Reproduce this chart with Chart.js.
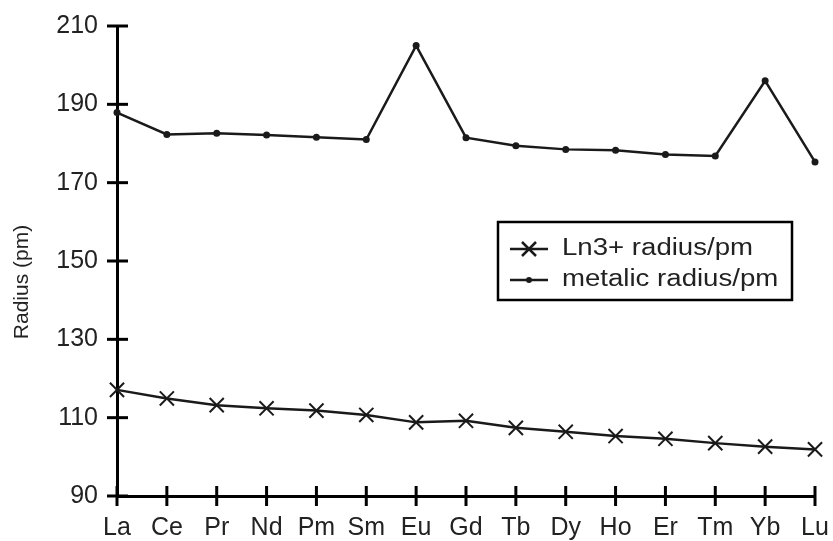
<!DOCTYPE html>
<html lang="en">
<head>
  <meta charset="UTF-8" />
  <title>Lanthanide radii</title>
  <script src="https://cdn.jsdelivr.net/npm/chart.js"></script>
  <style>
    html, body { margin:0; padding:0; background:#fff; }
    #box       { width:833px; height:541px; }
  </style>
</head>
<body>
<div id="box"><canvas id="radii"></canvas></div>

<script>
  /* ---------- data ---------- */
  const elements    = ['La','Ce','Pr','Nd','Pm','Sm','Eu','Gd','Tb','Dy','Ho','Er','Tm','Yb','Lu'];
  const ionRadius   = [117.1,114.9,113.2,112.4,111.8,110.7,108.8,109.2,107.4,106.4,105.3,104.6,103.5,102.6,101.9];
  const metalRadius = [187.9,182.3,182.6,182.2,181.6,181.0,205.0,181.5,179.4,178.5,178.3,177.2,176.8,196.0,175.3];
  const yTicks      = [90,110,130,150,170,190,210];

  const FONT = '"Liberation Sans", Arial, sans-serif';
  const INK  = '#1a1a1a';

  /* ticks crossing both axes + y title + boxed legend */
  const extras = {
    id:'extras',
    afterDraw(chart) {
      const c = chart.ctx, a = chart.chartArea;
      const xs = chart.scales.x, ys = chart.scales.y;
      c.save();
      c.strokeStyle = '#000'; c.lineWidth = 3; c.lineCap = 'butt';
      yTicks.forEach(v => {
        const y = ys.getPixelForValue(v);
        c.beginPath(); c.moveTo(a.left-10, y); c.lineTo(a.left+11, y); c.stroke();
      });
      elements.forEach((e,i) => {
        const x = xs.getPixelForValue(i);
        c.beginPath(); c.moveTo(x, a.bottom-10); c.lineTo(x, a.bottom+10); c.stroke();
      });

      // y title (source text is a little wider than tall)
      c.fillStyle = '#222';
      c.font = '21px ' + FONT;
      c.textAlign = 'center'; c.textBaseline = 'middle';
      c.translate(22, 282); c.rotate(-Math.PI/2);
      c.fillText('Radius (pm)', 0, 0);
      c.setTransform(1,0,0,1,0,0);

      // legend
      const L = {x:498, y:222, w:294, h:78};
      c.lineWidth = 2.5; c.strokeStyle = '#000';
      c.strokeRect(L.x, L.y, L.w, L.h);
      const rows = [L.y+27, L.y+58];
      chart.data.datasets.forEach((ds,i) => {
        const y = rows[i];
        c.lineWidth = 2.5; c.strokeStyle = INK;
        c.beginPath(); c.moveTo(L.x+12, y); c.lineTo(L.x+50, y); c.stroke();
        if (ds.pointStyle === 'crossRot') {
          c.beginPath();
          c.moveTo(L.x+24, y-7); c.lineTo(L.x+38, y+7);
          c.moveTo(L.x+38, y-7); c.lineTo(L.x+24, y+7);
          c.stroke();
        } else {
          c.fillStyle = INK;
          c.beginPath(); c.arc(L.x+31, y, 3, 0, Math.PI*2); c.fill();
        }
        c.fillStyle = '#222';
        c.font = '23px ' + FONT;
        c.textAlign = 'left'; c.textBaseline = 'middle';
        c.save();
        c.translate(L.x+64, y); c.scale(1.2, 1);
        c.fillText(ds.label, 0, 0);
        c.restore();
      });
      c.restore();
    }
  };

  new Chart(document.getElementById('radii'), {
    type:'line',
    data:{
      labels: elements,
      datasets:[
        { label:'Ln3+ radius/pm', data:ionRadius, borderColor:INK, borderWidth:2.5,
          pointStyle:'crossRot', pointRadius:10, pointBorderWidth:2,
          pointBorderColor:INK, pointBackgroundColor:'transparent', tension:0 },
        { label:'metalic radius/pm', data:metalRadius, borderColor:INK, borderWidth:2.5,
          pointStyle:'circle', pointRadius:3.5, pointBorderWidth:0,
          pointBackgroundColor:INK, tension:0 }
      ]
    },
    options:{
      responsive:true, maintainAspectRatio:false, animation:false,
      layout:{ padding:{ top:26, right:18, left:0, bottom:0 } },
      plugins:{ legend:{display:false}, tooltip:{enabled:false} },
      scales:{
        x:{
          offset:false,
          grid:{ display:false, drawTicks:false },
          border:{ display:true, color:'#000', width:3 },
          ticks:{ color:'#222', font:{family:FONT, size:25}, padding:17, autoSkip:false, maxRotation:0 },
          afterFit: s => { s.height = 45; s.paddingLeft = 0; s.paddingRight = 0; }
        },
        y:{
          min:90, max:210,
          grid:{ display:false, drawTicks:false },
          border:{ display:true, color:'#000', width:3 },
          ticks:{ color:'#222', font:{family:FONT, size:25}, padding:19, stepSize:20 },
          afterFit: s => { s.width = 117; s.paddingTop = 0; s.paddingBottom = 0; }
        }
      }
    },
    plugins:[extras]
  });
</script>
</body>
</html>
